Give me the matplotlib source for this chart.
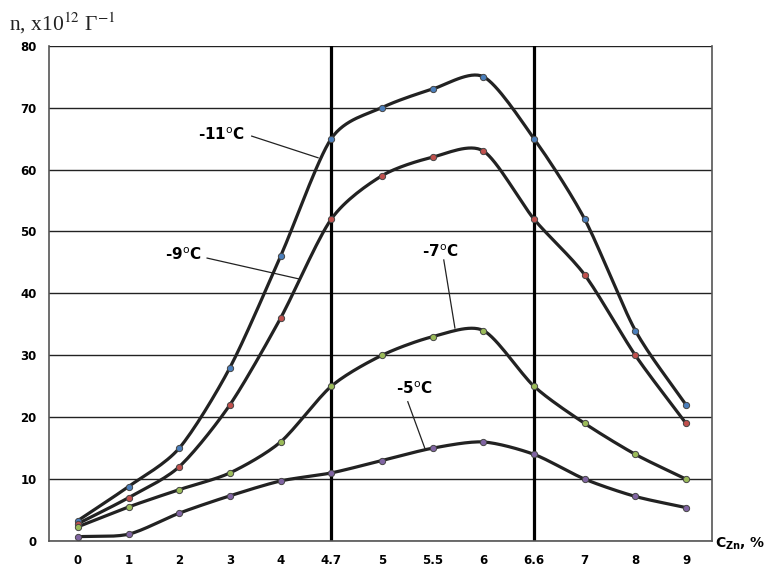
import numpy as np
import matplotlib
matplotlib.use("Agg")
from matplotlib import pyplot as plt

# concentrations (categorical axis, equally spaced)
conc = ["0", "1", "2", "3", "4", "4.7", "5", "5.5", "6", "6.6", "7", "8", "9"]
n_m11 = [3.3, 8.8, 15, 28, 46, 65, 70, 73, 75, 65, 52, 34, 22]
n_m9 = [2.8, 7, 12, 22, 36, 52, 59, 62, 63, 52, 43, 30, 19]
n_m7 = [2.3, 5.5, 8.3, 11, 16, 25, 30, 33, 34, 25, 19, 14, 10]
n_m5 = [0.7, 1.1, 4.5, 7.3, 9.7, 11, 13, 15, 16, 14, 10, 7.2, 5.4]
vlines_at = ["4.7", "6.6"]


def smooth(x, y, k=16, s=0.8):
    # hermite curve through the points, tangents from neighbours (smoothed line)
    x = np.asarray(x, float)
    y = np.asarray(y, float)
    t = np.linspace(0, 1, k, endpoint=False)
    h00 = 2 * t**3 - 3 * t**2 + 1
    h10 = t**3 - 2 * t**2 + t
    h01 = -2 * t**3 + 3 * t**2
    h11 = t**3 - t**2
    def tang(p):
        m = np.empty_like(p)
        m[1:-1] = (p[2:] - p[:-2]) / 2 * s
        m[0] = (p[1] - p[0]) * s
        m[-1] = (p[-1] - p[-2]) * s
        return m
    mx, my = tang(x), tang(y)
    xs, ys = [], []
    for i in range(len(x) - 1):
        xs.extend(h00 * x[i] + h10 * mx[i] + h01 * x[i + 1] + h11 * mx[i + 1])
        ys.extend(h00 * y[i] + h10 * my[i] + h01 * y[i + 1] + h11 * my[i + 1])
    xs.append(x[-1])
    ys.append(y[-1])
    return np.array(xs), np.array(ys)


fig = plt.figure(figsize=(7.69, 5.68), dpi=100)
ax = fig.add_axes([0.0637, 0.0475, 0.862, 0.872])

xi = np.arange(len(conc))
series = [(n_m11, "#4a7ebb"), (n_m9, "#c0504d"), (n_m7, "#9bbb59"), (n_m5, "#8064a2")]
for vals, col in series:
    sx, sy = smooth(xi, vals)
    ax.plot(sx, sy, color="#222222", lw=2.3, zorder=3, solid_capstyle="round")
    ax.plot(xi, vals, "o", ms=4.5, mfc=col, mec="#444444", mew=0.7, zorder=4)

for v in vlines_at:
    ax.axvline(conc.index(v), color="black", lw=2.3, zorder=2)

ax.set_xlim(-0.57, 12.51)
ax.set_ylim(0, 80)
ax.set_yticks(range(0, 81, 10))
ax.set_xticks(xi)
ax.set_xticklabels(conc)
ax.grid(axis="y", color="#222222", lw=1.0)
ax.tick_params(length=0, labelsize=8.5, pad=9)
for lab in ax.get_xticklabels() + ax.get_yticklabels():
    lab.set_fontweight("bold")
ax.spines["top"].set_visible(False)
for s in ("left", "bottom", "right"):
    ax.spines[s].set_color("#555555")
    ax.spines[s].set_linewidth(1.2)

# curve labels with leader lines
lbl = dict(fontsize=11, fontweight="bold", ha="center", va="center", zorder=5)
ax.text(2.84, 65.7, "-11$^{\\rm o}$C", **lbl)
ax.plot([3.43, 4.74], [65.4, 61.9], color="#222222", lw=0.9, zorder=5)
ax.text(2.07, 46.2, "-9$^{\\rm o}$C", **lbl)
ax.plot([2.55, 4.38], [45.7, 42.3], color="#222222", lw=0.9, zorder=5)
ax.text(7.14, 46.8, "-7$^{\\rm o}$C", **lbl)
ax.plot([7.22, 7.44], [45.4, 34.4], color="#222222", lw=0.9, zorder=5)
ax.text(6.64, 24.6, "-5$^{\\rm o}$C", **lbl)
ax.plot([6.51, 6.85], [22.5, 14.9], color="#222222", lw=0.9, zorder=5)

fig.text(0.012, 0.947, "n, x10$^{12}$ Г$^{-1}$", fontsize=15.5, family="Liberation Serif",
         color="#222222", math_fontfamily="stix")
fig.text(0.995, 0.043, "$\\mathbf{C}_{\\mathbf{Zn}}$, %", fontsize=10, fontweight="bold",
         va="center", ha="right")

fig.savefig("out.png", dpi=100)
